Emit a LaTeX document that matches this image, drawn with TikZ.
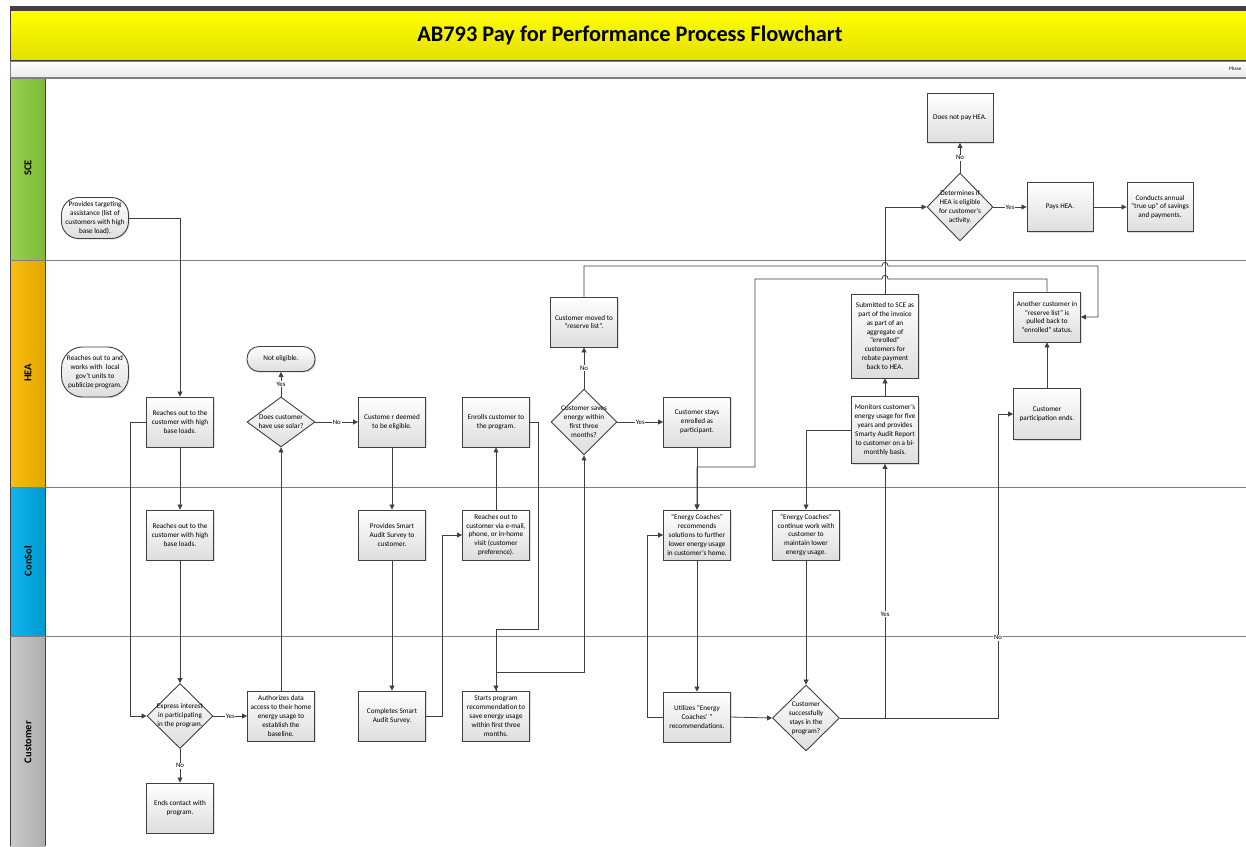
\documentclass[tikz,border=0pt]{standalone}
\usepackage{fontspec}
\setmainfont{Carlito}
\usetikzlibrary{shapes.geometric,arrows.meta,shadows}
\definecolor{lineGray}{HTML}{404040}
\definecolor{sepGray}{HTML}{7F7F7F}
\definecolor{titleTop}{HTML}{FFFF00}
\definecolor{titleBot}{HTML}{E4E000}
\definecolor{sceL}{HTML}{96D24E}
\definecolor{sceR}{HTML}{7DBA38}
\definecolor{heaL}{HTML}{F8BE10}
\definecolor{heaR}{HTML}{E3A600}
\definecolor{conL}{HTML}{10B4EE}
\definecolor{conR}{HTML}{009ACF}
\definecolor{cusL}{HTML}{CACACA}
\definecolor{cusR}{HTML}{ADADAD}
\newcommand{\boxfont}{\fontsize{7.2}{8.9}\selectfont}
\begin{document}
\begin{tikzpicture}[x=1pt,y=-1pt,
  box/.style={draw=lineGray,line width=0.9pt,top color=white,bottom color=black!13,
    drop shadow={shadow xshift=1.2pt,shadow yshift=-1.2pt,opacity=0.25},
    minimum width=67pt,minimum height=50pt,inner sep=1pt,align=center,font=\boxfont},
  term/.style={box,rounded corners=20pt},
  decision/.style={diamond,draw=lineGray,line width=0.9pt,top color=white,bottom color=black!13,
    minimum width=66pt,minimum height=66pt,inner sep=0pt},
  dtext/.style={align=center,font=\boxfont,inner sep=0pt},
  flow/.style={draw=lineGray,line width=0.8pt,-{Triangle[length=5pt,width=5pt]}},
  yn/.style={fill=white,font=\fontsize{6.8}{7}\selectfont,inner sep=0.8pt},
  lanetext/.style={rotate=90,font=\bfseries\fontsize{10.5}{12}\selectfont}]
\useasboundingbox (0,0) rectangle (1246,846);
\fill[white] (0,0) rectangle (1246,846);
\fill[lineGray] (10,6) rectangle (1246,10);
\shade[top color=titleTop,bottom color=titleBot,draw=lineGray,line width=0.8pt] (10,10) rectangle (1250,60);
\node[font=\bfseries\fontsize{22.3}{25}\selectfont] (title) at (630,35) {AB793 Pay for Performance Process Flowchart};
\shade[top color=white,bottom color=black!8,draw=sepGray,line width=0.8pt] (10,61) rectangle (1250,77);
\node[anchor=west,font=\fontsize{5}{6}\selectfont,inner sep=0pt] (phase) at (1229,69) {Phase};
\shade[left color=sceL,right color=sceR] (10,78) rectangle (45,260);
\shade[left color=heaL,right color=heaR] (10,260) rectangle (45,487);
\shade[left color=conL,right color=conR] (10,487) rectangle (45,636);
\shade[left color=cusL,right color=cusR] (10,636) rectangle (45,846);
\draw[lineGray,line width=0.8pt] (10,78) -- (10,846);
\draw[lineGray,line width=0.8pt] (45,78) -- (45,846);
\draw[sepGray,line width=0.9pt] (10,78) -- (1246,78);
\draw[sepGray,line width=0.9pt] (10,260) -- (1246,260);
\draw[sepGray,line width=0.9pt] (10,487) -- (1246,487);
\draw[sepGray,line width=0.9pt] (10,636) -- (1246,636);
\node[lanetext] (laneSCE) at (28,168) {SCE};
\node[lanetext] (laneHEA) at (28,373) {HEA};
\node[lanetext] (laneConSol) at (28,561) {ConSol};
\node[lanetext] (laneCustomer) at (28,742) {Customer};

\node[term,minimum height=41pt,rounded corners=17pt] (sceTarget) at (95,218) {Provides targeting\\assistance (list of\\customers with high\\base load).};
\node[decision,minimum height=68pt,label={[dtext]center:{Determines if\\HEA is eligible\\for customer’s\\activity.}}] (detHEA) at (960,207) {};
\node[box,minimum width=66pt,minimum height=49pt] (doesNot) at (960,118) {Does not pay HEA.};
\node[box,minimum width=66pt,minimum height=49pt] (pays) at (1060,207) {Pays HEA.};
\node[box,minimum width=66pt,minimum height=49pt] (conducts) at (1160,207) {Conducts annual\\“true up” of savings\\and payments.};

\node[term,rounded corners=21pt] (heaPublicize) at (95,372) {Reaches out to and\\works with~ local\\gov’t units to\\publicize program.};
\node[box] (heaReach) at (180,422) {Reaches out to the\\customer with high\\base loads.};
\node[term,minimum width=68pt,minimum height=25pt,rounded corners=12pt] (notEligible) at (281,359) {Not eligible.};
\node[decision,minimum width=68pt,minimum height=50pt,label={[dtext]center:{Does customer\\have use solar?}}] (solar) at (281,422) {};
\node[box] (deemed) at (392,422) {Custome r deemed\\to be eligible.};
\node[box] (enrolls) at (496,422) {Enrolls customer to\\the program.};
\node[box] (moved) at (584,322) {Customer moved to\\“reserve list”.};
\node[decision,label={[dtext]center:{Customer saves\\energy within\\first three\\months?}}] (saves) at (584,422) {};
\node[box] (stays) at (697,422) {Customer stays\\enrolled as\\participant.};
\node[box,minimum height=84pt] (submitted) at (885,336) {Submitted to SCE as\\part of the invoice\\as part of an\\aggregate of\\“enrolled”\\customers for\\rebate payment\\back to HEA.};
\node[box,minimum height=67pt] (monitors) at (885,430) {Monitors customer’s\\energy usage for five\\years and provides\\Smarty Audit Report\\to customer on a bi-\\monthly basis.};
\node[box] (another) at (1047,317) {Another customer in\\“reserve list” is\\pulled back to\\“enrolled” status.};
\node[box,minimum height=51pt] (participation) at (1047,414) {Customer\\participation ends.};

\node[box] (csReach) at (180,535) {Reaches out to the\\customer with high\\base loads.};
\node[box] (smartSurvey) at (392,535) {Provides Smart\\Audit Survey to\\customer.};
\node[box] (reachVia) at (496,535) {Reaches out to\\customer via e-mail,\\phone, or in-home\\visit (customer\\preference).};
\node[box] (ecRecommend) at (697,535) {“Energy Coaches”\\recommends\\solutions to further\\lower energy usage\\in customer’s home.};
\node[box] (ecContinue) at (806,535) {“Energy Coaches”\\continue work with\\customer to\\maintain lower\\energy usage.};

\node[decision,minimum height=65pt,label={[dtext]center:{Express interest\\in participating\\in the program.}}] (express) at (180,716) {};
\node[box] (authorizes) at (281,716) {Authorizes data\\access to their home\\energy usage to\\establish the\\baseline.};
\node[box] (endsContact) at (180,808) {Ends contact with\\program.};
\node[box] (completes) at (392,716) {Completes Smart\\Audit Survey.};
\node[box] (starts) at (496,716) {Starts program\\recommendation to\\save energy usage\\within first three\\months.};
\node[box] (utilizes) at (697,717) {Utilizes “Energy\\Coaches’ ”\\recommendations.};
\node[decision,minimum width=67pt,label={[dtext]center:{Customer\\successfully\\stays in the\\program?}}] (staysProg) at (806,718) {};

\draw[flow] (sceTarget.east) -| (heaReach.north);
\draw[flow] (heaReach.south) -- (csReach.north);
\draw[flow] (csReach.south) -- (express.north);
\draw[flow] (heaReach.west) -- ++(-16,0) |- (express.west);
\draw[flow] (express.east) -- node[yn]{Yes} (authorizes.west);
\draw[flow] (express.south) -- node[yn]{No} (endsContact.north);
\draw[flow] (authorizes.north) -- (solar.south);
\draw[flow] (solar.north) -- node[yn]{Yes} (notEligible.south);
\draw[flow] (solar.east) -- node[yn]{No} (deemed.west);
\draw[flow] (deemed.south) -- (smartSurvey.north);
\draw[flow] (smartSurvey.south) -- (completes.north);
\draw[flow] (completes.east) -- ++(16,0) |- (reachVia.west);
\draw[flow] (reachVia.north) -- (enrolls.south);
\draw[flow] (enrolls.east) -| (538,629) -| (starts.north);
\draw[flow] (starts.north) -- ++(0,-18) -| (saves.south);
\draw[flow] (saves.north) -- node[yn]{No} (moved.south);
\draw[flow] (saves.east) -- node[yn]{Yes} (stays.west);
\draw[flow] (moved.north) |- (882,266) .. controls (882,261) and (888,261) .. (888,266) -| (1098,317) -- (another.east);
\draw[flow] (stays.south) -- (ecRecommend.north);
\draw[flow] (another.north) |- (888,279) .. controls (888,274) and (882,274) .. (882,279) -- (755,279) |- (697,467) -- (ecRecommend.north);
\draw[flow] (ecRecommend.south) -- (utilizes.north);
\draw[flow] (utilizes.west) -- ++(-16,0) |- (ecRecommend.west);
\draw[flow] (utilizes.east) -- (staysProg.west);
\draw[flow] (ecContinue.south) -- (staysProg.north);
\draw[flow] (monitors.west) -| (ecContinue.north);
\draw[flow] (staysProg.east) -| node[yn,pos=0.705]{Yes} (monitors.south);
\draw[flow] (staysProg.east) -| node[yn,pos=0.632]{No} (998,414) -- (participation.west);
\draw[flow] (monitors.north) -- (submitted.south);
\draw[flow] (participation.north) -- (another.south);
\draw[flow] (submitted.north) |- (detHEA.west);
\draw[flow] (detHEA.north) -- node[yn]{No} (doesNot.south);
\draw[flow] (detHEA.east) -- node[yn]{Yes} (pays.west);
\draw[flow] (pays.east) -- (conducts.west);
\end{tikzpicture}
\end{document}
